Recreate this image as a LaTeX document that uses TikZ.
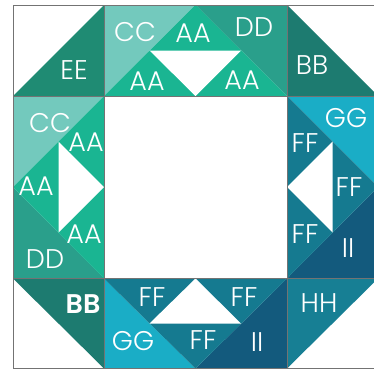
\documentclass[tikz,border=0pt]{standalone}
\usepackage{fontspec}
\setmainfont{Poppins}[UprightFont=* Light, BoldFont=* SemiBold]
\definecolor{EEc}{HTML}{1F8B73}
\definecolor{CCc}{HTML}{73C9BD}
\definecolor{AAc}{HTML}{1AB592}
\definecolor{DDc}{HTML}{2A9F8B}
\definecolor{BBc}{HTML}{1D7B70}
\definecolor{GGc}{HTML}{1AADC6}
\definecolor{FFc}{HTML}{157A90}
\definecolor{IIc}{HTML}{135A7D}
\definecolor{HHc}{HTML}{177F94}
\begin{document}
\begin{tikzpicture}[x=1pt,y=-1pt,
  lbl/.style={text=white,font=\fontsize{27}{27}\selectfont,inner sep=0pt},
  gridline/.style={draw=black!55,line width=0.8pt}]
\useasboundingbox (0,0) rectangle (374,370);
\begin{scope}
\clip (0,0) rectangle (374,370);
\fill[white] (0,0) rectangle (374,370);
% corners
\fill[EEc] (13,96) -- (104,5) -- (104,96) -- cycle;
\fill[BBc] (287,5) -- (287,96) -- (378,96) -- cycle;
\fill[BBc] (13,278.5) -- (104,278.5) -- (104,368.5) -- cycle;
\fill[HHc] (287,278.5) -- (378,278.5) -- (287,368.5) -- cycle;
% top
\fill[CCc] (104,5) -- (195.5,5) -- (104,96) -- cycle;
\fill[DDc] (195.5,5) -- (287,5) -- (287,96) -- cycle;
\fill[AAc] (195.5,5) -- (104,96) -- (287,96) -- cycle;
\fill[white] (149.5,50.5) -- (241,50.5) -- (195.5,96) -- cycle;
% left
\fill[CCc] (13,96) -- (104,96) -- (13,187) -- cycle;
\fill[DDc] (13,187) -- (13,278.5) -- (104,278.5) -- cycle;
\fill[AAc] (104,96) -- (13,187) -- (104,278.5) -- cycle;
\fill[white] (58.5,141.5) -- (58.5,232.5) -- (104,187) -- cycle;
% right
\fill[GGc] (287,96) -- (378,96) -- (378,187) -- cycle;
\fill[IIc] (378,187) -- (378,278.5) -- (287,278.5) -- cycle;
\fill[FFc] (287,96) -- (378,187) -- (287,278.5) -- cycle;
\fill[white] (332.5,141.5) -- (332.5,232.5) -- (287,187) -- cycle;
% bottom
\fill[GGc] (104,278.5) -- (104,368.5) -- (195.5,368.5) -- cycle;
\fill[IIc] (287,278.5) -- (287,368.5) -- (195.5,368.5) -- cycle;
\fill[FFc] (104,278.5) -- (195.5,368.5) -- (287,278.5) -- cycle;
\fill[white] (149.5,323.5) -- (241,323.5) -- (195.5,278.5) -- cycle;
% grid lines
\draw[gridline] (13,5) rectangle (380,368.5);
\draw[gridline] (104,5) -- (104,368.5);
\draw[gridline] (287,5) -- (287,368.5);
\draw[gridline] (13,96) -- (380,96);
\draw[gridline] (13,278.5) -- (380,278.5);
\end{scope}
% labels
\node[lbl] (ee) at (74,70) {EE};
\node[lbl] (cc1) at (135,32) {CC};
\node[lbl] (aa1) at (193,33) {AA};
\node[lbl] (dd1) at (254,27) {DD};
\node[lbl] (aa2) at (147,81) {AA};
\node[lbl] (aa3) at (242,80) {AA};
\node[lbl] (bb1) at (312,65) {BB};
\node[lbl] (cc2) at (50,123) {CC};
\node[lbl] (aa4) at (86,142) {AA};
\node[lbl] (aa5) at (36,186) {AA};
\node[lbl] (aa6) at (84,234) {AA};
\node[lbl] (dd2) at (45,259) {DD};
\node[lbl,font=\fontsize{27}{27}\selectfont\bfseries] (bb2) at (83,304) {BB};
\node[lbl] (ff1) at (152,297) {FF};
\node[lbl] (gg1) at (133,341) {GG};
\node[lbl] (ff2) at (203,340) {FF};
\node[lbl] (ff3) at (244,297) {FF};
\node[lbl] (ii1) at (257,342) {II};
\node[lbl] (hh) at (319,303) {HH};
\node[lbl] (gg2) at (346,118) {GG};
\node[lbl] (ff4) at (305,143) {FF};
\node[lbl] (ff5) at (349,187) {FF};
\node[lbl] (ff6) at (305,234) {FF};
\node[lbl] (ii2) at (348,248) {II};
\end{tikzpicture}
\end{document}
